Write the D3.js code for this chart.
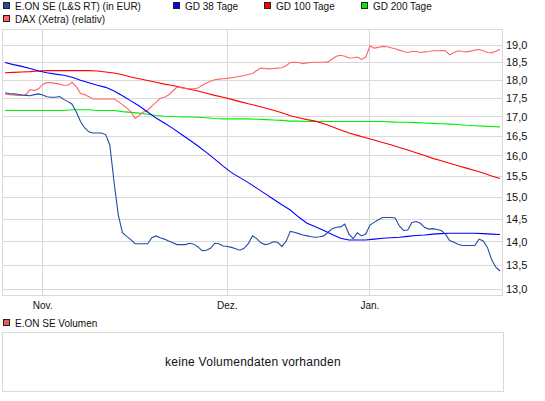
<!DOCTYPE html>
<html>
<head>
<meta charset="utf-8">
<script src="https://cdn.jsdelivr.net/npm/d3@7"></script>
<style>
  body { margin: 0; background: #fff; }
  svg { display: block; font-family: "Liberation Sans", Arial, sans-serif; }
</style>
</head>
<body>
<div id="chart"></div>
<script>
// ---- data (trading days starting 25 Oct; prices sampled twice a day) ----
const seriesNames = ["E.ON SE (L&S RT) (in EUR)", "GD 38 Tage", "GD 100 Tage", "GD 200 Tage", "DAX (Xetra) (relativ)"];
const volumeName = "E.ON SE Volumen";
const volumeMessage = "keine Volumendaten vorhanden";

const eon = [
  17.65, 17.63, 17.62, 17.61, 17.59, 17.58, 17.57, 17.60, 17.62, 17.59,
  17.54, 17.53, 17.53, 17.55, 17.47, 17.41, 17.34, 17.13, 16.88, 16.71,
  16.61, 16.58, 16.58, 16.58, 16.54, 16.27, 15.36, 14.60, 14.20, 14.12,
  14.05, 13.96, 13.96, 13.96, 13.96, 14.09, 14.13, 14.09, 14.06, 14.02,
  13.98, 13.94, 13.94, 13.94, 13.97, 13.95, 13.89, 13.81, 13.82, 13.86,
  13.97, 13.96, 13.91, 13.90, 13.88, 13.85, 13.82, 13.86, 13.96, 14.13,
  14.07, 13.98, 13.94, 13.96, 14.00, 13.99, 13.90, 14.01, 14.23, 14.21,
  14.18, 14.15, 14.13, 14.11, 14.10, 14.11, 14.13, 14.21, 14.29, 14.32,
  14.33, 14.39, 14.17, 14.07, 14.20, 14.13, 14.17, 14.37, 14.43, 14.49,
  14.54, 14.54, 14.54, 14.53, 14.35, 14.25, 14.26, 14.43, 14.45, 14.41,
  14.32, 14.28, 14.29, 14.27, 14.25, 14.17, 14.03, 13.99, 13.95, 13.92,
  13.92, 13.92, 13.92, 14.06, 14.02, 13.88, 13.62, 13.46, 13.38
];

const dax = [
  17.61, 17.60, 17.59, 17.58, 17.58, 17.60, 17.74, 17.71, 17.76, 17.88,
  17.93, 17.93, 17.91, 17.89, 17.86, 17.86, 17.94, 17.82, 17.63, 17.60,
  17.54, 17.48, 17.48, 17.48, 17.48, 17.48, 17.48, 17.41, 17.33, 17.24,
  17.14, 16.96, 17.04, 17.13, 17.18, 17.29, 17.39, 17.50, 17.53, 17.59,
  17.70, 17.81, 17.79, 17.77, 17.76, 17.76, 17.78, 17.86, 17.92, 17.97,
  18.01, 18.03, 18.04, 18.05, 18.07, 18.09, 18.11, 18.13, 18.16, 18.19,
  18.27, 18.34, 18.33, 18.32, 18.33, 18.34, 18.35, 18.41, 18.50, 18.51,
  18.50, 18.47, 18.49, 18.50, 18.51, 18.51, 18.51, 18.52, 18.60, 18.68,
  18.71, 18.68, 18.63, 18.64, 18.66, 18.59, 18.66, 18.98, 18.92, 18.94,
  18.97, 18.96, 18.93, 18.90, 18.86, 18.82, 18.79, 18.82, 18.82, 18.79,
  18.81, 18.82, 18.84, 18.84, 18.85, 18.84, 18.72, 18.79, 18.84, 18.82,
  18.81, 18.83, 18.86, 18.88, 18.84, 18.79, 18.78, 18.83, 18.88
];

// moving averages, one value per trading day
const gd38 = [
  18.50, 18.44, 18.39, 18.33, 18.26, 18.21, 18.17, 18.14, 18.08, 18.00,
  17.93, 17.86, 17.80, 17.70, 17.57, 17.43, 17.29, 17.13, 16.97, 16.84,
  16.70, 16.55, 16.40, 16.25, 16.09, 15.92, 15.75, 15.59, 15.47, 15.35,
  15.22, 15.09, 14.96, 14.83, 14.71, 14.55, 14.41, 14.33, 14.25, 14.16,
  14.08, 14.04, 14.04, 14.04, 14.06, 14.08, 14.09, 14.10, 14.12, 14.14,
  14.15, 14.17, 14.18, 14.19, 14.19, 14.19, 14.19, 14.18, 14.17, 14.16
];

const gd100 = [
  18.21, 18.22, 18.23, 18.24, 18.26, 18.27, 18.27, 18.27, 18.27, 18.27,
  18.27, 18.26, 18.23, 18.20, 18.15, 18.09, 18.04, 17.99, 17.94, 17.89,
  17.85, 17.80, 17.75, 17.70, 17.64, 17.58, 17.53, 17.47, 17.41, 17.35,
  17.30, 17.24, 17.18, 17.11, 17.03, 16.98, 16.93, 16.89, 16.82, 16.74,
  16.66, 16.58, 16.52, 16.46, 16.40, 16.34, 16.28, 16.21, 16.15, 16.08,
  16.01, 15.94, 15.88, 15.82, 15.76, 15.70, 15.64, 15.58, 15.51, 15.45
];

const gd200 = [
  17.17, 17.17, 17.17, 17.17, 17.17, 17.17, 17.17, 17.17, 17.19, 17.19,
  17.19, 17.17, 17.17, 17.17, 17.14, 17.12, 17.10, 17.07, 17.04, 17.02,
  17.01, 17.00, 17.00, 16.99, 16.98, 16.96, 16.95, 16.95, 16.95, 16.95,
  16.94, 16.93, 16.92, 16.91, 16.89, 16.89, 16.88, 16.88, 16.88, 16.88,
  16.88, 16.88, 16.88, 16.88, 16.88, 16.88, 16.87, 16.86, 16.86, 16.85,
  16.84, 16.83, 16.82, 16.81, 16.80, 16.78, 16.77, 16.76, 16.75, 16.74
];

const monthLabels = ["Nov.", "Dez.", "Jan."];
const monthFirstDay = [5, 27, 44];   // index of first trading day of each month
const yTicks = [13.0, 13.5, 14.0, 14.5, 15.0, 15.5, 16.0, 16.5, 17.0, 17.5, 18.0, 18.5, 19.0];
const yDomain = [12.87, 19.49];

// ---- layout ----
const width = 545, height = 401;
const frame = {left: 2.5, right: 502.5, top: 29.5, bottom: 295.5};
const gridColor = "#d9d9d9";
const colors = ["#1f4ea3", "#0000ff", "#ff0000", "#00ee00", "#ff6464"];

const svg = d3.select("#chart").append("svg")
  .attr("width", width)
  .attr("height", height);

const x = d3.scaleLinear().domain([0, gd38.length - 1]).range([5, 500]);
const y = d3.scaleLog().domain(yDomain).range([296, 29]);
const snap = v => Math.round(v - 0.5) + 0.5;

// legend
const legendPos = [[3, 10], [173, 10], [264, 10], [361, 10], [3, 23]];
const legend = svg.append("g").selectAll("g")
  .data(seriesNames)
  .join("g")
  .attr("transform", (d, i) => `translate(${legendPos[i][0]},${legendPos[i][1]})`);
legend.append("rect")
  .attr("x", 0.5).attr("y", -7.5)
  .attr("width", 6).attr("height", 6)
  .attr("fill", (d, i) => colors[i])
  .attr("stroke", "#222");
legend.append("text")
  .attr("x", 12).attr("y", 0)
  .style("font-size", "10px")
  .attr("fill", "#111")
  .text(d => d);

// grid
const grid = svg.append("g");
grid.selectAll("line.h")
  .data(yTicks)
  .join("line")
  .attr("class", "h")
  .attr("x1", frame.left).attr("x2", frame.right)
  .attr("y1", d => snap(y(d))).attr("y2", d => snap(y(d)))
  .attr("stroke", gridColor);
grid.selectAll("line.v")
  .data(monthFirstDay)
  .join("line")
  .attr("class", "v")
  .attr("x1", d => snap(x(d - 0.5))).attr("x2", d => snap(x(d - 0.5)))
  .attr("y1", frame.top).attr("y2", frame.bottom)
  .attr("stroke", gridColor);
grid.append("rect")
  .attr("x", frame.left).attr("y", frame.top)
  .attr("width", frame.right - frame.left).attr("height", frame.bottom - frame.top)
  .attr("fill", "none").attr("stroke", gridColor);

// axis labels
svg.append("g").selectAll("text")
  .data(yTicks)
  .join("text")
  .attr("x", 506).attr("y", d => y(d))
  .attr("dy", "0.36em")
  .style("font-size", "11px")
  .attr("fill", "#111")
  .text(d => d3.format(".1f")(d).replace(".", ","));

svg.append("g").selectAll("text")
  .data(monthLabels)
  .join("text")
  .attr("x", (d, i) => x(monthFirstDay[i] - 0.5))
  .attr("y", 309)
  .attr("text-anchor", "middle")
  .style("font-size", "10px")
  .attr("fill", "#111")
  .text(d => d);

// lines
svg.append("clipPath").attr("id", "plot-clip")
  .append("rect")
  .attr("x", frame.left).attr("y", frame.top)
  .attr("width", frame.right - frame.left).attr("height", frame.bottom - frame.top);

const lineHalf = d3.line().x((d, i) => x(i / 2)).y(d => y(d));
const lineDay = d3.line().x((d, i) => x(i)).y(d => y(d));

const plot = svg.append("g").attr("clip-path", "url(#plot-clip)");
const drawn = [
  {values: gd200, line: lineDay, color: colors[3]},
  {values: gd100, line: lineDay, color: colors[2]},
  {values: dax, line: lineHalf, color: colors[4]},
  {values: gd38, line: lineDay, color: colors[1]},
  {values: eon, line: lineHalf, color: colors[0]}
];
plot.selectAll("path")
  .data(drawn)
  .join("path")
  .attr("d", d => d.line(d.values))
  .attr("fill", "none")
  .attr("stroke", d => d.color)
  .attr("stroke-width", 1.1);

// volume panel (no data)
const vol = svg.append("g");
vol.append("rect")
  .attr("x", 3.5).attr("y", 319.5)
  .attr("width", 6).attr("height", 6)
  .attr("fill", "#d86060").attr("stroke", "#222");
vol.append("text")
  .attr("x", 15).attr("y", 327)
  .style("font-size", "10px")
  .attr("fill", "#111")
  .text(volumeName);
vol.append("rect")
  .attr("x", 2.5).attr("y", 332.5)
  .attr("width", 501).attr("height", 59)
  .attr("fill", "none").attr("stroke", gridColor);
vol.append("text")
  .attr("x", 253).attr("y", 366)
  .attr("text-anchor", "middle")
  .style("font-size", "12px")
  .style("letter-spacing", "0.25px")
  .attr("fill", "#111")
  .text(volumeMessage);
</script>
</body>
</html>
